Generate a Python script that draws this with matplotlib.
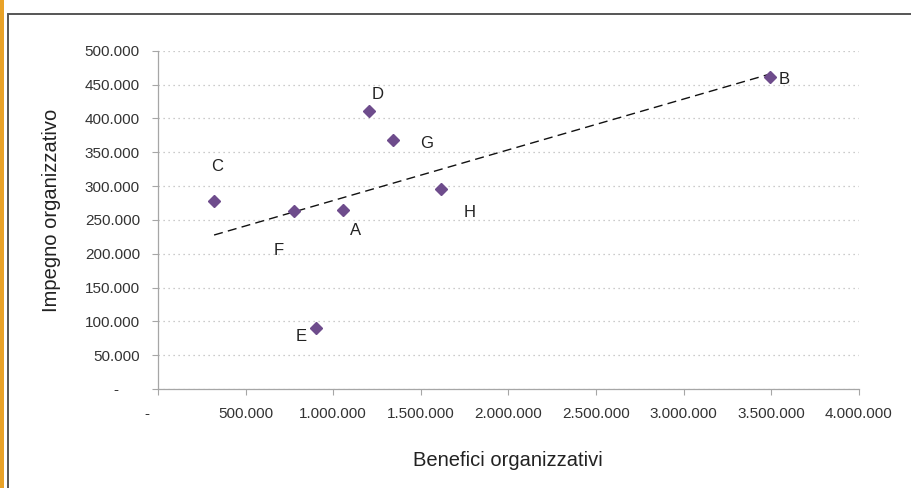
import matplotlib
matplotlib.use("Agg")
import matplotlib.pyplot as plt
import numpy as np
from matplotlib.patches import Rectangle
from matplotlib.ticker import FuncFormatter, MultipleLocator

plt.rcParams["font.family"] = ["Liberation Sans", "DejaVu Sans"]

# project points: organisational benefits vs organisational effort
labels = ["A", "B", "C", "D", "E", "F", "G", "H"]
benefici = [1058000, 3493000, 320000, 1206000, 902000, 778000, 1343000, 1615000]
impegno = [264800, 461500, 278100, 410200, 90200, 263300, 368300, 295900]

# where each letter sits relative to its point, in pixels (dx, dy up)
label_offsets = {"A": (12, -21), "B": (14, -3), "C": (3, 34), "D": (8, 17),
                 "E": (-15, -9), "F": (-16, -40), "G": (33, -4), "H": (29, -24)}

W, H, DPI = 912, 488, 100
PX = 72.0 / DPI


def it_fmt(v, _pos):
    """Excel-style Italian accounting format: dots for thousands, dash for zero."""
    if abs(v) < 1e-6:
        return "-     "
    return f"{v:,.0f}".replace(",", ".")


fig = plt.figure(figsize=(W / DPI, H / DPI), dpi=DPI)

# slide frame: orange stripe and dark border
fig.add_artist(Rectangle((0, 0), 4 / W, 1, transform=fig.transFigure,
                         facecolor="#E9A227", edgecolor="none"))
fig.add_artist(Rectangle((8 / W, -0.1), 1.2, 1 - 14 / H + 0.1, transform=fig.transFigure,
                         facecolor="none", edgecolor="#555555", linewidth=1.4))

ax = fig.add_axes([158 / W, 1 - 389 / H, (859 - 158) / W, (389 - 50.7) / H])
ax.set_xlim(0, 4000000)
ax.set_ylim(0, 500000)
ax.xaxis.set_major_locator(MultipleLocator(500000))
ax.yaxis.set_major_locator(MultipleLocator(50000))
ax.xaxis.set_major_formatter(FuncFormatter(it_fmt))
ax.yaxis.set_major_formatter(FuncFormatter(it_fmt))

for side in ("top", "right"):
    ax.spines[side].set_visible(False)
for side in ("left", "bottom"):
    ax.spines[side].set_color("#A6A6A6")
    ax.spines[side].set_linewidth(0.9)
ax.tick_params(colors="#A6A6A6", labelcolor="#333333", labelsize=11,
               length=4, width=0.8, direction="out")
ax.tick_params(axis="x", pad=9)
ax.tick_params(axis="y", pad=9)
ax.grid(axis="y", color="#BBBBBB", linestyle=(0, (1, 3)), linewidth=0.9)
ax.set_axisbelow(True)

# linear trend line over the data range
coef = np.polyfit(benefici, impegno, 1)
xs = np.array([min(benefici), max(benefici)])
ax.plot(xs, np.polyval(coef, xs), color="#111111", linestyle=(0, (6.5, 3.8)),
        linewidth=1.0, zorder=2)

ax.plot(benefici, impegno, linestyle="none", marker="D", markersize=6.2,
        color="#6E4C8C", zorder=3)

for name, x, y in zip(labels, benefici, impegno):
    dx, dy = label_offsets[name]
    ax.annotate(name, (x, y), xytext=(dx * PX, dy * PX), textcoords="offset points",
                ha="center", va="center", fontsize=12, color="#222222")

ax.set_xlabel("Benefici organizzativi", fontsize=14.5, color="#222222", va="center")
ax.set_ylabel("Impegno organizzativo", fontsize=14.5, color="#222222", va="center")
ax.xaxis.set_label_coords(0.499, -0.21)
ax.yaxis.set_label_coords(-0.152, 0.528)

fig.savefig("out.png", dpi=DPI)
